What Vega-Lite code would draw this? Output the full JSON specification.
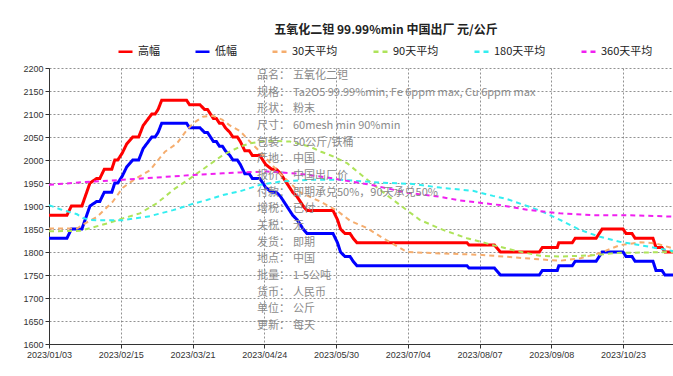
{
  "$schema": "https://vega.github.io/schema/vega-lite/v6.json",
  "width": 624,
  "height": 276,
  "autosize": "none",
  "padding": {"left": 49, "top": 68, "right": 0, "bottom": 32},
  "background": "white",
  "title": {"text": "五氧化二钽 99.99%min 中国出厂 元/公斤", "font": "Noto Sans CJK SC", "fontSize": 12, "fontWeight": "bold", "color": "#222", "anchor": "middle", "dx": 25, "offset": 6},
  "datasets": {
    "steps": [
      {"i":0,"高幅":1880,"低幅":1830},{"i":6,"高幅":1880,"低幅":1830},{"i":7.5,"高幅":1900,"低幅":1850},{"i":11,"高幅":1900,"低幅":1850},
      {"i":13.7,"高幅":1950,"低幅":1900},{"i":16,"高幅":1960,"低幅":1910},{"i":17,"高幅":1960,"低幅":1910},{"i":18.5,"高幅":1980,"低幅":1930},
      {"i":21,"高幅":1980,"低幅":1930},{"i":22,"高幅":2000,"低幅":1950},{"i":23,"高幅":2000,"低幅":1950},{"i":24.5,"高幅":2015,"低幅":1965},
      {"i":26,"高幅":2035,"低幅":1985},{"i":28,"高幅":2050,"低幅":2000},{"i":30,"高幅":2050,"低幅":2000},{"i":31.5,"高幅":2075,"低幅":2025},
      {"i":34.4,"高幅":2100,"低幅":2050},{"i":35.5,"高幅":2100,"低幅":2050},{"i":36.5,"高幅":2110,"低幅":2060},{"i":37.7,"高幅":2130,"低幅":2080},
      {"i":46,"高幅":2130,"低幅":2080},{"i":47,"高幅":2120,"低幅":2070},{"i":50.5,"高幅":2120,"低幅":2070},{"i":52,"高幅":2110,"低幅":2060},
      {"i":53,"高幅":2110,"低幅":2060},{"i":54,"高幅":2100,"低幅":2050},{"i":55,"高幅":2090,"低幅":2040},{"i":56,"高幅":2090,"低幅":2040},
      {"i":57,"高幅":2080,"低幅":2030},{"i":58,"高幅":2080,"低幅":2030},{"i":59,"高幅":2070,"低幅":2020},{"i":60.5,"高幅":2060,"低幅":2010},
      {"i":61.5,"高幅":2050,"低幅":2000},{"i":63,"高幅":2050,"低幅":2000},{"i":64,"高幅":2040,"低幅":1990},{"i":65.5,"高幅":2020,"低幅":1970},
      {"i":67,"高幅":2020,"低幅":1970},{"i":68,"高幅":2010,"低幅":1960},{"i":70.5,"高幅":2010,"低幅":1960},{"i":71.5,"高幅":2000,"低幅":1950},
      {"i":72.5,"高幅":1990,"低幅":1940},{"i":74.5,"高幅":1980,"低幅":1930},{"i":76,"高幅":1980,"低幅":1930},{"i":77.5,"高幅":1970,"低幅":1920},
      {"i":78.5,"高幅":1960,"低幅":1910},{"i":79.5,"高幅":1950,"低幅":1900},{"i":80.5,"高幅":1940,"低幅":1890},{"i":81.5,"高幅":1930,"低幅":1880},
      {"i":83,"高幅":1920,"低幅":1870},{"i":84,"高幅":1910,"低幅":1860},{"i":85,"高幅":1900,"低幅":1850},{"i":86.3,"高幅":1890,"低幅":1840},
      {"i":95,"高幅":1890,"低幅":1840},{"i":96.5,"高幅":1870,"低幅":1820},{"i":97.5,"高幅":1850,"低幅":1800},{"i":99,"高幅":1840,"低幅":1790},
      {"i":100.7,"高幅":1840,"低幅":1790},{"i":101.7,"高幅":1830,"低幅":1780},{"i":103,"高幅":1820,"低幅":1770},{"i":139.8,"高幅":1820,"低幅":1770},
      {"i":140.5,"高幅":1815,"低幅":1765},{"i":149,"高幅":1815,"低幅":1765},{"i":151,"高幅":1800,"低幅":1750},{"i":164,"高幅":1800,"低幅":1750},
      {"i":165,"高幅":1810,"低幅":1760},{"i":170,"高幅":1810,"低幅":1760},{"i":170.5,"高幅":1820,"低幅":1770},{"i":175,"高幅":1820,"低幅":1770},
      {"i":176,"高幅":1830,"低幅":1780},{"i":183,"高幅":1830,"低幅":1780},{"i":185,"高幅":1850,"低幅":1800},{"i":192,"高幅":1850,"低幅":1800},
      {"i":193,"高幅":1840,"低幅":1790},{"i":195,"高幅":1840,"低幅":1790},{"i":196,"高幅":1830,"低幅":1780},{"i":202,"高幅":1830,"低幅":1780},
      {"i":203,"高幅":1810,"低幅":1760},{"i":205,"高幅":1810,"低幅":1760},{"i":206,"高幅":1800,"低幅":1750},{"i":208.7,"高幅":1800,"低幅":1750}
    ],
    "ma": [
      {"s":"30天平均","i":0,"v":1851},{"s":"30天平均","i":9.4,"v":1851},{"s":"30天平均","i":11.4,"v":1860},{"s":"30天平均","i":16,"v":1876},
      {"s":"30天平均","i":21.4,"v":1910},{"s":"30天平均","i":24.7,"v":1940},{"s":"30天平均","i":28,"v":1955},{"s":"30天平均","i":30.4,"v":1965},
      {"s":"30天平均","i":33.8,"v":1978},{"s":"30天平均","i":36.5,"v":2000},{"s":"30天平均","i":38.8,"v":2018},{"s":"30天平均","i":42.8,"v":2036},
      {"s":"30天平均","i":45.5,"v":2060},{"s":"30天平均","i":48.2,"v":2080},{"s":"30天平均","i":51.5,"v":2094},{"s":"30天平均","i":54.8,"v":2096},
      {"s":"30天平均","i":57.9,"v":2088},{"s":"30天平均","i":60.5,"v":2075},{"s":"30天平均","i":63.9,"v":2063},{"s":"30天平均","i":68.2,"v":2033},
      {"s":"30天平均","i":70.6,"v":2018},{"s":"30天平均","i":77.3,"v":1970},{"s":"30天平均","i":80.6,"v":1950},{"s":"30天平均","i":83.9,"v":1930},
      {"s":"30天平均","i":90.6,"v":1910},{"s":"30天平均","i":96.3,"v":1890},{"s":"30天平均","i":100.7,"v":1868},{"s":"30天平均","i":106.4,"v":1852},
      {"s":"30天平均","i":111.7,"v":1830},{"s":"30天平均","i":119.7,"v":1800},{"s":"30天平均","i":130.8,"v":1797},{"s":"30天平均","i":144.1,"v":1794},
      {"s":"30天平均","i":154.2,"v":1789},{"s":"30天平均","i":164.2,"v":1784},{"s":"30天平均","i":170.9,"v":1781},{"s":"30天平均","i":177.6,"v":1786},
      {"s":"30天平均","i":184.3,"v":1798},{"s":"30天平均","i":191,"v":1815},{"s":"30天平均","i":197.7,"v":1821},{"s":"30天平均","i":202.7,"v":1819},
      {"s":"30天平均","i":208.7,"v":1808},
      {"s":"90天平均","i":0,"v":1845},{"s":"90天平均","i":10.4,"v":1846},{"s":"90天平均","i":19.4,"v":1862},{"s":"90天平均","i":24.7,"v":1873},
      {"s":"90天平均","i":30.4,"v":1884},{"s":"90天平均","i":36.1,"v":1906},{"s":"90天平均","i":41.5,"v":1935},{"s":"90天平均","i":47.2,"v":1960},
      {"s":"90天平均","i":52.8,"v":1986},{"s":"90天平均","i":58.2,"v":2011},{"s":"90天平均","i":63.9,"v":2029},{"s":"90天平均","i":67.2,"v":2036},
      {"s":"90天平均","i":72.9,"v":2042},{"s":"90天平均","i":80.6,"v":2040},{"s":"90天平均","i":87.3,"v":2029},{"s":"90天平均","i":91,"v":2018},
      {"s":"90天平均","i":95,"v":2008},{"s":"90天平均","i":99.7,"v":1993},{"s":"90天平均","i":104,"v":1970},{"s":"90天平均","i":110.7,"v":1935},
      {"s":"90天平均","i":117.4,"v":1902},{"s":"90天平均","i":124,"v":1870},{"s":"90天平均","i":131.8,"v":1848},{"s":"90天平均","i":139.8,"v":1830},
      {"s":"90天平均","i":148.5,"v":1815},{"s":"90天平均","i":156.5,"v":1802},{"s":"90天平均","i":164.2,"v":1792},{"s":"90天平均","i":170.9,"v":1790},
      {"s":"90天平均","i":181.9,"v":1793},{"s":"90天平均","i":190,"v":1798},{"s":"90天平均","i":208.7,"v":1800},
      {"s":"180天平均","i":0,"v":1902},{"s":"180天平均","i":3.7,"v":1893},{"s":"180天平均","i":9.4,"v":1882},{"s":"180天平均","i":11.4,"v":1874},
      {"s":"180天平均","i":13.7,"v":1870},{"s":"180天平均","i":16,"v":1869},{"s":"180天平均","i":24.7,"v":1869},{"s":"180天平均","i":33.8,"v":1878},
      {"s":"180天平均","i":41.5,"v":1891},{"s":"180天平均","i":47.2,"v":1903},{"s":"180天平均","i":52.8,"v":1913},{"s":"180天平均","i":58.2,"v":1924},
      {"s":"180天平均","i":63.9,"v":1932},{"s":"180天平均","i":70.6,"v":1946},{"s":"180天平均","i":77.3,"v":1953},{"s":"180天平均","i":87.3,"v":1957},
      {"s":"180天平均","i":97.3,"v":1957},{"s":"180天平均","i":110.7,"v":1951},{"s":"180天平均","i":121.7,"v":1948},{"s":"180天平均","i":130.8,"v":1940},
      {"s":"180天平均","i":141.8,"v":1933},{"s":"180天平均","i":148.5,"v":1922},{"s":"180天平均","i":153.2,"v":1915},{"s":"180天平均","i":159.9,"v":1900},
      {"s":"180天平均","i":164.2,"v":1890},{"s":"180天平均","i":170.9,"v":1870},{"s":"180天平均","i":177.6,"v":1848},{"s":"180天平均","i":184.3,"v":1833},
      {"s":"180天平均","i":191,"v":1822},{"s":"180天平均","i":197.7,"v":1815},{"s":"180天平均","i":204.3,"v":1807},{"s":"180天平均","i":208.7,"v":1802},
      {"s":"360天平均","i":0,"v":1946},{"s":"360天平均","i":11.4,"v":1952},{"s":"360天平均","i":24.7,"v":1957},{"s":"360天平均","i":36.1,"v":1962},
      {"s":"360天平均","i":47.2,"v":1967},{"s":"360天平均","i":58.2,"v":1971},{"s":"360天平均","i":63.9,"v":1973},{"s":"360天平均","i":72.9,"v":1975},
      {"s":"360天平均","i":83.9,"v":1970},{"s":"360天平均","i":95,"v":1960},{"s":"360天平均","i":97.3,"v":1957},{"s":"360天平均","i":104,"v":1950},
      {"s":"360天平均","i":108.4,"v":1945},{"s":"360天平均","i":119.7,"v":1929},{"s":"360天平均","i":130.8,"v":1920},{"s":"360天平均","i":137.5,"v":1912},
      {"s":"360天平均","i":144.1,"v":1907},{"s":"360天平均","i":150.8,"v":1902},{"s":"360天平均","i":159.9,"v":1892},{"s":"360天平均","i":170.9,"v":1884},
      {"s":"360天平均","i":181.9,"v":1880},{"s":"360天平均","i":193.3,"v":1880},{"s":"360天平均","i":208.7,"v":1877}
    ],
    "info": [
      {"r":0,"k":"品名：","t":"五氧化二钽"},
      {"r":1,"k":"规格：","t":"Ta2O5 99.99%min, Fe 6ppm max, Cu 6ppm max"},
      {"r":2,"k":"形状：","t":"粉末"},
      {"r":3,"k":"尺寸：","t":"60mesh min 90%min"},
      {"r":4,"k":"包装：","t":"50公斤/铁桶"},
      {"r":5,"k":"产地：","t":"中国"},
      {"r":6,"k":"报价：","t":"中国出厂价"},
      {"r":7,"k":"付款：","t":"即期承兑50%，90天承兑50%"},
      {"r":8,"k":"增税：","t":"已付"},
      {"r":9,"k":"关税：","t":"无"},
      {"r":10,"k":"发货：","t":"即期"},
      {"r":11,"k":"地点：","t":"中国"},
      {"r":12,"k":"批量：","t":"1-5公吨"},
      {"r":13,"k":"货币：","t":"人民币"},
      {"r":14,"k":"单位：","t":"公斤"},
      {"r":15,"k":"更新：","t":"每天"}
    ]
  },
  "layer": [
    {
      "encoding": {
        "x": {"field": "i", "type": "quantitative", "scale": {"domain": [0, 208.7], "nice": false, "zero": false},
          "axis": {"title": null, "values": [0, 24, 48, 72, 96, 120, 144, 168, 192],
            "labelExpr": "['2023/01/03','2023/02/15','2023/03/21','2023/04/24','2023/05/30','2023/07/04','2023/08/07','2023/09/08','2023/10/23'][round(datum.value/24)]",
            "labelFlush": false, "labelOverlap": false, "labelFont": "Liberation Sans", "labelFontSize": 9, "labelColor": "#333",
            "domainColor": "#333", "tickColor": "#333", "tickSize": 4, "labelPadding": 2,
            "grid": true, "gridColor": "#777", "gridDash": [2, 2], "gridOpacity": 0.8}},
        "y": {"field": "v", "type": "quantitative", "scale": {"domain": [1600, 2200], "nice": false, "zero": false},
          "axis": {"title": null, "values": [1600,1650,1700,1750,1800,1850,1900,1950,2000,2050,2100,2150,2200], "format": "d",
            "labelFont": "Liberation Sans", "labelFontSize": 9, "labelColor": "#333",
            "domainColor": "#333", "tickColor": "#333", "tickSize": 4, "labelPadding": 2,
            "grid": true, "gridColor": "#777", "gridDash": [2, 2], "gridOpacity": 0.8}},
        "color": {"field": "s", "type": "nominal",
          "scale": {"domain": ["高幅","低幅","30天平均","90天平均","180天平均","360天平均"],
                    "range": ["#ff0000","#0000ff","#f5ad6e","#aee35a","#33eef0","#f020f0"]},
          "legend": {"orient": "none", "legendX": 68, "legendY": -25, "direction": "horizontal", "title": null,
            "symbolType": "stroke", "symbolSize": 196, "symbolStrokeWidth": 2.5,
            "labelFont": "Noto Sans CJK SC", "labelFontSize": 11, "labelColor": "#222", "columnPadding": 30, "labelOffset": 4}},
        "strokeDash": {"field": "s", "type": "nominal",
          "scale": {"domain": ["高幅","低幅","30天平均","90天平均","180天平均","360天平均"],
                    "range": [[1,0],[1,0],[5,4],[5,4],[5,4],[5,4]]},
          "legend": {"orient": "none", "legendX": 68, "legendY": -25, "direction": "horizontal", "title": null,
            "symbolType": "stroke", "symbolSize": 196, "symbolStrokeWidth": 2.5,
            "labelFont": "Noto Sans CJK SC", "labelFontSize": 11, "labelColor": "#222", "columnPadding": 30, "labelOffset": 4}}
      },
      "layer": [
        {
          "data": {"name": "steps"},
          "transform": [{"fold": ["高幅", "低幅"], "as": ["s", "v"]}],
          "mark": {"type": "line", "strokeWidth": 3, "interpolate": "linear"}
        },
        {
          "data": {"name": "ma"},
          "mark": {"type": "line", "strokeWidth": 2, "interpolate": "linear"}
        }
      ]
    },
    {
      "data": {"name": "info"},
      "mark": {"type": "text", "align": "left", "baseline": "middle", "font": "Noto Sans CJK SC", "fontSize": 11, "color": "#8a8a8a"},
      "encoding": {
        "x": {"datum": 0, "type": "quantitative", "scale": {"domain": [-5.78, 11.56], "nice": false, "zero": false}, "axis": null},
        "y": {"field": "r", "type": "quantitative", "scale": {"domain": [-0.48, 16.08], "nice": false, "zero": false, "reverse": true}, "axis": null},
        "text": {"field": "k"}
      }
    },
    {
      "data": {"name": "info"},
      "mark": {"type": "text", "align": "left", "baseline": "middle", "font": "Noto Sans CJK SC", "fontSize": 11, "color": "#8a8a8a"},
      "encoding": {
        "x": {"datum": 1, "type": "quantitative", "scale": {"domain": [-5.78, 11.56], "nice": false, "zero": false}, "axis": null},
        "y": {"field": "r", "type": "quantitative", "scale": {"domain": [-0.48, 16.08], "nice": false, "zero": false, "reverse": true}, "axis": null},
        "text": {"field": "t"}
      }
    }
  ],
  "resolve": {"scale": {"x": "independent", "y": "independent"}},
  "config": {"view": {"stroke": null}}
}
